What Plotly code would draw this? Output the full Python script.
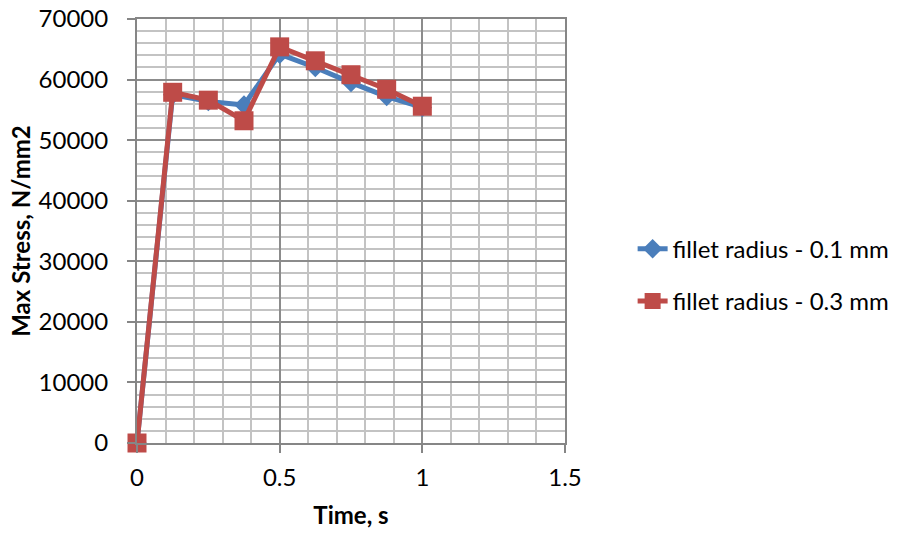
import plotly.graph_objects as go

time_s = [0, 0.125, 0.25, 0.375, 0.5, 0.625, 0.75, 0.875, 1.0]
stress_r01 = [0, 57500, 56400, 55800, 64200, 62000, 59500, 57200, 55400]
stress_r03 = [0, 57900, 56600, 53200, 65400, 63100, 60800, 58400, 55600]
series_names = ["fillet radius - 0.1 mm", "fillet radius - 0.3 mm"]
x_ticks = [0, 0.5, 1, 1.5]
x_tick_labels = ["0", "0.5", "1", "1.5"]

FONT = "Lato, Calibri, Carlito, sans-serif"

fig = go.Figure()
fig.add_trace(go.Scatter(
    x=time_s, y=stress_r01, name=series_names[0], mode="lines+markers",
    line=dict(color="#4a7ebb", width=5),
    marker=dict(symbol="diamond", size=15, color="#4a7ebb"),
    cliponaxis=False, legendgroup="a"))
fig.add_trace(go.Scatter(
    x=time_s, y=stress_r03, name=series_names[1], mode="lines+markers",
    line=dict(color="#be4b48", width=5),
    marker=dict(symbol="square", size=19, color="#be4b48"),
    cliponaxis=False, legendgroup="b"))

axis_common = dict(
    showline=True, linecolor="#868686", linewidth=2, mirror=True,
    gridcolor="#8c8c8c", gridwidth=2, zeroline=False,
    ticks="outside", ticklen=8, tickcolor="#868686", tickwidth=2,
    tickfont=dict(family=FONT, size=24, color="#000"),
    automargin=False,
)

fig.update_xaxes(
    range=[0, 1.5], tickvals=x_ticks, ticktext=x_tick_labels,
    ticklabelstandoff=4,
    minor=dict(dtick=0.1, tick0=0, showgrid=True, gridcolor="#c3c3c3", gridwidth=2),
    title=dict(text="<b>Time, s</b>", font=dict(family=FONT, size=24, color="#000"), standoff=17),
    **axis_common)
fig.update_yaxes(
    range=[0, 70000], dtick=10000, tickformat="d",
    ticklabelstandoff=14,
    minor=dict(dtick=2000, tick0=0, showgrid=True, gridcolor="#c3c3c3", gridwidth=2),
    title=dict(text="<b>Max Stress, N/mm2</b>", font=dict(family=FONT, size=24, color="#000"), standoff=1),
    **axis_common)

fig.update_layout(
    width=908, height=533,
    margin=dict(l=137, r=343, t=19, b=90),
    paper_bgcolor="white", plot_bgcolor="white",
    legend=dict(x=1.158, y=0.396, xanchor="left", yanchor="middle",
                font=dict(family=FONT, size=24, color="#000"),
                tracegroupgap=18, bgcolor="rgba(0,0,0,0)"),
    showlegend=True,
)

fig.write_html("out.html")
